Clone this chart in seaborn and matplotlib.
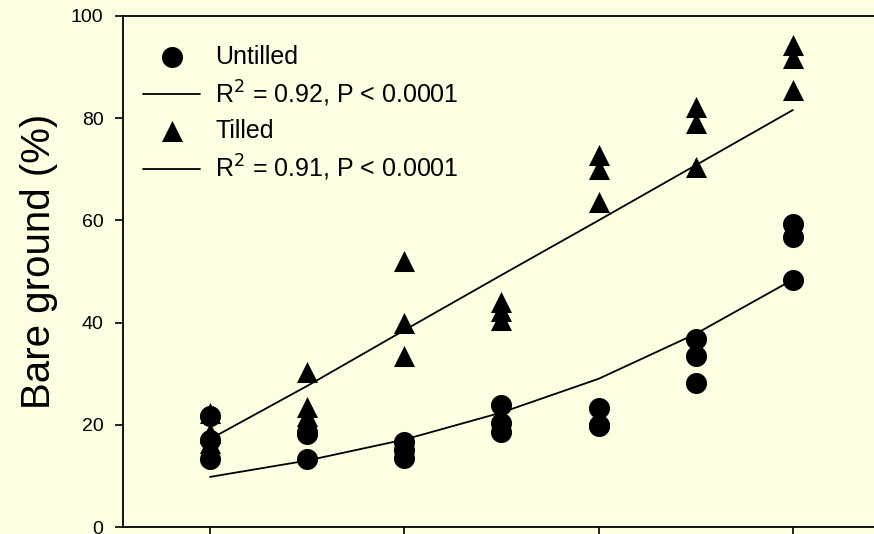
import pandas as pd
import matplotlib.pyplot as plt
import seaborn as sns

# sampling positions (1..7), three replicates each
x_pos = [1, 2, 3, 4, 5, 6, 7]
untilled = [[21.8, 17.0, 13.4],
            [18.5, 18.2, 13.4],
            [16.7, 15.0, 13.5],
            [23.9, 20.4, 18.6],
            [23.3, 20.0, 19.8],
            [36.7, 33.4, 28.2],
            [59.2, 56.7, 48.4]]
tilled = [[22.3, 18.4, 16.5],
          [30.3, 23.5, 21.8],
          [52.0, 40.0, 33.4],
          [44.0, 42.2, 40.6],
          [72.8, 70.0, 63.6],
          [82.2, 79.0, 70.4],
          [94.3, 91.7, 85.6]]
# fitted curves
fit_untilled = [9.8, 13.0, 17.1, 22.4, 29.0, 37.8, 48.4]
fit_tilled = [17.2, 27.6, 38.5, 49.3, 60.0, 70.8, 81.6]
labels = ["Untilled", "R$^2$ = 0.92, P < 0.0001", "Tilled", "R$^2$ = 0.91, P < 0.0001"]

rows = []
for x, u, t in zip(x_pos, untilled, tilled):
    rows += [(x, v, "Untilled") for v in u]
    rows += [(x, v, "Tilled") for v in t]
df = pd.DataFrame(rows, columns=["x", "bare", "treat"])
df_fit = pd.DataFrame({"x": x_pos * 2,
                       "bare": fit_untilled + fit_tilled,
                       "treat": ["Untilled"] * 7 + ["Tilled"] * 7})

sns.set_style("ticks")
plt.rcParams['font.family'] = ['Liberation Sans', 'DejaVu Sans']
plt.rcParams['text.color'] = 'black'
plt.rcParams['axes.labelcolor'] = 'black'
plt.rcParams['xtick.color'] = 'black'
plt.rcParams['ytick.color'] = 'black'
bg = '#FEFEE2'

fig = plt.figure(figsize=(8.74, 5.34), dpi=100, facecolor=bg)
ax = fig.add_axes([123 / 874, 7 / 534, 767 / 874, 511 / 534])
ax.set_facecolor(bg)

sns.lineplot(data=df_fit[df_fit.treat == "Untilled"], x="x", y="bare", color="black",
             lw=1.3, ax=ax, legend=False, errorbar=None)
sns.lineplot(data=df_fit[df_fit.treat == "Tilled"], x="x", y="bare", color="black",
             lw=1.3, ax=ax, legend=False, errorbar=None)
sns.scatterplot(data=df[df.treat == "Untilled"], x="x", y="bare", marker="o", s=230,
                color="black", edgecolor="black", linewidth=0, ax=ax, legend=False, zorder=3)
sns.scatterplot(data=df[df.treat == "Tilled"], x="x", y="bare", marker="^", s=230,
                color="black", edgecolor="black", linewidth=0, ax=ax, legend=False, zorder=3)

ax.set_xlim(1 - 87 / 97.17, 8.0)
ax.set_ylim(0, 100)
ax.set_xticks([1, 3, 5, 7])
ax.set_xticklabels([])
ax.set_yticks([0, 20, 40, 60, 80, 100])
ax.tick_params(axis='both', length=6, width=1.2, color='black', labelsize=14, pad=8,
               direction='out', labelcolor='black')
ax.set_xlabel("")
ax.set_ylabel("Bare ground (%)", fontsize=29, labelpad=9)
ax.yaxis.label.set_y(0.519)
for side in ["left", "bottom", "top"]:
    ax.spines[side].set_linewidth(1.3)
    ax.spines[side].set_color("black")
ax.spines["right"].set_visible(False)

pts_u, pts_t = ax.collections[-2], ax.collections[-1]
line_u, line_t = ax.lines[0], ax.lines[1]
ax.legend([pts_u, line_u, pts_t, line_t], labels, loc="upper left",
          bbox_to_anchor=(0.0104, 0.968), frameon=False, fontsize=18,
          handlelength=2.28, handletextpad=0.6, labelspacing=0.4, borderpad=0,
          markerscale=1.0)

fig.savefig("out.png", dpi=100, facecolor=bg)
